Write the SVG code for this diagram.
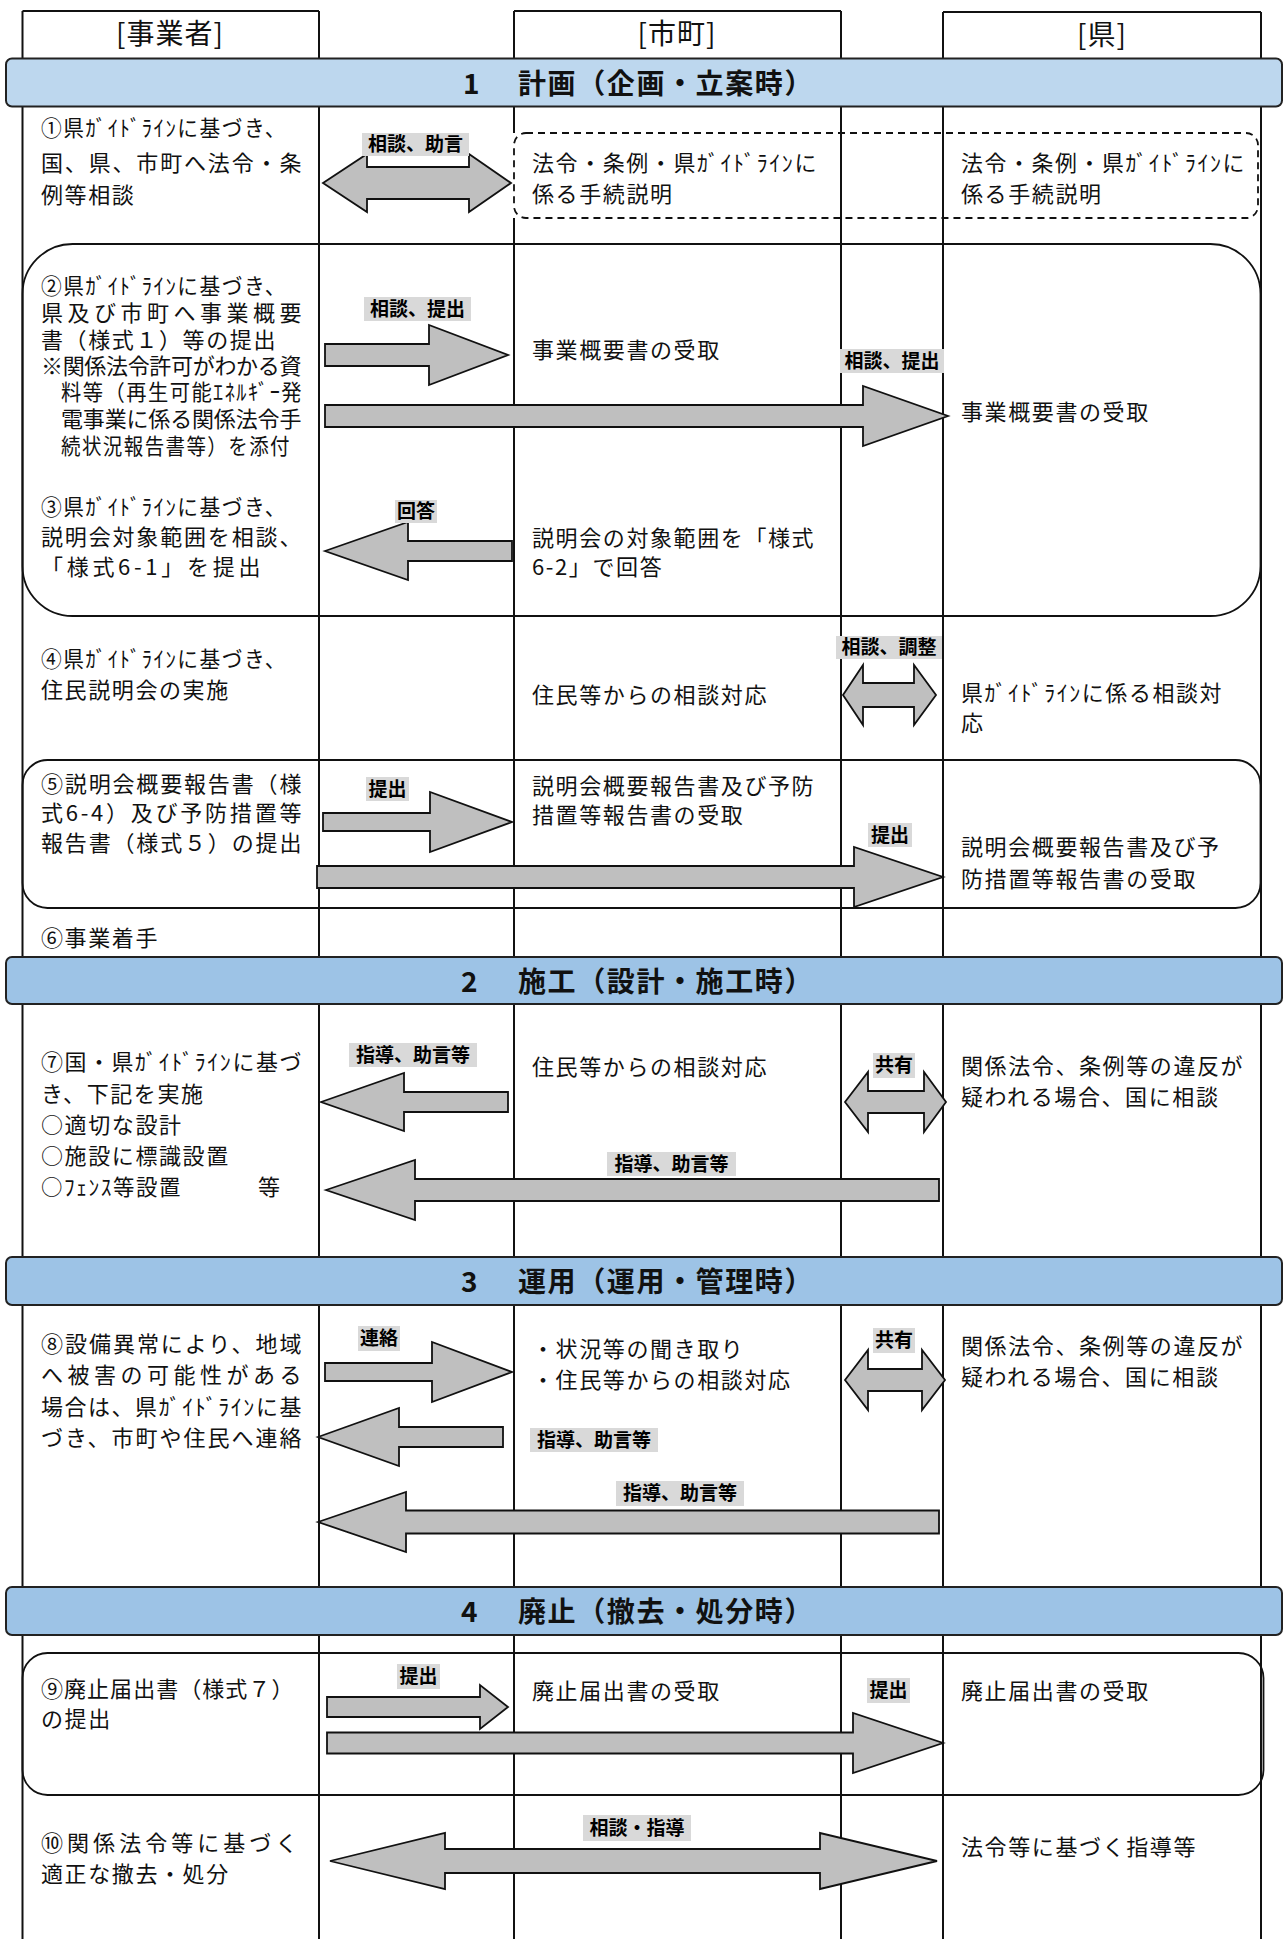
<svg xmlns="http://www.w3.org/2000/svg" width="1284" height="1939" viewBox="0 0 1284 1939">
<style>
text{font-family:"Noto Sans CJK JP","Noto Sans",sans-serif;fill:#111}
.t{font-size:22px;letter-spacing:1.6px}
.h{font-size:28px;text-anchor:middle;letter-spacing:1px}
.bt{font-size:28px;font-weight:bold;letter-spacing:1.6px}
.lb{font-size:19px;font-weight:bold;text-anchor:middle;fill:#000}
.lbg{fill:#d9d9d9}
.ar{fill:#bfbfbf;stroke:#111;stroke-width:1.8;stroke-linejoin:miter}
.ln{stroke:#111;stroke-width:2;fill:none}
.box{fill:none;stroke:#111;stroke-width:1.8}
.dash{fill:none;stroke:#111;stroke-width:1.8;stroke-dasharray:7 5}
.bn1{fill:#bdd7ee;stroke:#222;stroke-width:2}
.bn{fill:#9dc3e6;stroke:#222;stroke-width:2}
</style>
<rect width="1284" height="1939" fill="#fff"/>
<g id="grid">
<path class="ln" d="M22.5,11V1939M319,11V1939M514,11V133M514,218V1939M841,11V1939M943,12V1939M1261,12V1939M22.5,11H319M514,11H841M943,12H1261"/>
</g>
<g id="headers">
<text class="h" x="170" y="44">[事業者]</text>
<text class="h" x="677" y="44">[市町]</text>
<text class="h" x="1102" y="45">[県]</text>
</g>
<g id="boxes">
<rect class="dash" x="514" y="133" width="744" height="85" rx="12"/>
<rect class="box" x="22.5" y="244" width="1238" height="372" rx="50"/>
<rect class="box" x="22.5" y="760" width="1238" height="148" rx="25"/>
<rect class="box" x="22.5" y="1653" width="1241" height="142" rx="25"/>
</g>
<g id="banner1"><rect class="bn1" x="6" y="58.5" width="1276" height="48" rx="6"/><text class="bt" x="463" y="94">1</text><text class="bt" x="518" y="94">計画（企画・立案時）</text></g>
<g id="banner2"><rect class="bn" x="6" y="957" width="1276" height="47" rx="6"/><text class="bt" x="461" y="992">2</text><text class="bt" x="518" y="992">施工（設計・施工時）</text></g>
<g id="banner3"><rect class="bn" x="6" y="1257" width="1276" height="48" rx="6"/><text class="bt" x="461" y="1292">3</text><text class="bt" x="518" y="1292">運用（運用・管理時）</text></g>
<g id="banner4"><rect class="bn" x="6" y="1587" width="1276" height="48" rx="6"/><text class="bt" x="461" y="1622">4</text><text class="bt" x="518" y="1622">廃止（撤去・処分時）</text></g>

<g id="step1">
<text class="t" x="41" y="136" textLength="246" lengthAdjust="spacingAndGlyphs">①県ｶﾞｲﾄﾞﾗｲﾝに基づき、</text>
<text class="t" x="41" y="171" textLength="262">国、県、市町へ法令・条</text>
<text class="t" x="41" y="203">例等相談</text>
</g>
<g id="city1">
<text class="t" x="532" y="171" textLength="286" lengthAdjust="spacingAndGlyphs">法令・条例・県ｶﾞｲﾄﾞﾗｲﾝに</text>
<text class="t" x="532" y="202">係る手続説明</text>
</g>
<g id="pref1">
<text class="t" x="961" y="171" textLength="285" lengthAdjust="spacingAndGlyphs">法令・条例・県ｶﾞｲﾄﾞﾗｲﾝに</text>
<text class="t" x="961" y="202">係る手続説明</text>
</g>

<g id="step2">
<text class="t" x="41" y="294" textLength="246" lengthAdjust="spacingAndGlyphs">②県ｶﾞｲﾄﾞﾗｲﾝに基づき、</text>
<text class="t" x="41" y="321" textLength="262">県及び市町へ事業概要</text>
<text class="t" x="41" y="348">書（様式１）等の提出</text>
<text class="t" x="41" y="374" textLength="262">※関係法令許可がわかる資</text>
<text class="t" x="61" y="400" textLength="242" lengthAdjust="spacingAndGlyphs">料等（再生可能ｴﾈﾙｷﾞｰ発</text>
<text class="t" x="61" y="427" textLength="242">電事業に係る関係法令手</text>
<text class="t" x="61" y="454" textLength="230" lengthAdjust="spacingAndGlyphs">続状況報告書等）を添付</text>
</g>
<g id="city2"><text class="t" x="532" y="358">事業概要書の受取</text></g>
<g id="pref2"><text class="t" x="961" y="420">事業概要書の受取</text></g>

<g id="step3">
<text class="t" x="41" y="515" textLength="246" lengthAdjust="spacingAndGlyphs">③県ｶﾞｲﾄﾞﾗｲﾝに基づき、</text>
<text class="t" x="41" y="545" textLength="262">説明会対象範囲を相談、</text>
<text class="t" x="41" y="575" textLength="221">「様式6-1」を提出</text>
</g>
<g id="city3">
<text class="t" x="532" y="546">説明会の対象範囲を「様式</text>
<text class="t" x="532" y="575">6-2」で回答</text>
</g>

<g id="step4">
<text class="t" x="41" y="667" textLength="246" lengthAdjust="spacingAndGlyphs">④県ｶﾞｲﾄﾞﾗｲﾝに基づき、</text>
<text class="t" x="41" y="698">住民説明会の実施</text>
</g>
<g id="city4"><text class="t" x="532" y="703">住民等からの相談対応</text></g>
<g id="pref4">
<text class="t" x="961" y="701" textLength="262" lengthAdjust="spacingAndGlyphs">県ｶﾞｲﾄﾞﾗｲﾝに係る相談対</text>
<text class="t" x="961" y="731">応</text>
</g>

<g id="step5">
<text class="t" x="41" y="792" textLength="262">⑤説明会概要報告書（様</text>
<text class="t" x="41" y="821" textLength="262">式6-4）及び予防措置等</text>
<text class="t" x="41" y="851" textLength="262">報告書（様式５）の提出</text>
</g>
<g id="city5">
<text class="t" x="532" y="794">説明会概要報告書及び予防</text>
<text class="t" x="532" y="823">措置等報告書の受取</text>
</g>
<g id="pref5">
<text class="t" x="961" y="855">説明会概要報告書及び予</text>
<text class="t" x="961" y="887">防措置等報告書の受取</text>
</g>
<g id="step6"><text class="t" x="41" y="946">⑥事業着手</text></g>

<g id="step7">
<text class="t" x="41" y="1070" textLength="262" lengthAdjust="spacingAndGlyphs">⑦国・県ｶﾞｲﾄﾞﾗｲﾝに基づ</text>
<text class="t" x="41" y="1102">き、下記を実施</text>
<text class="t" x="41" y="1133">○適切な設計</text>
<text class="t" x="41" y="1164">○施設に標識設置</text>
<text class="t" x="41" y="1195" textLength="141" lengthAdjust="spacingAndGlyphs">○ﾌｪﾝｽ等設置</text>
<text class="t" x="258" y="1195">等</text>
</g>
<g id="city7"><text class="t" x="532" y="1075">住民等からの相談対応</text></g>
<g id="pref7">
<text class="t" x="961" y="1074">関係法令、条例等の違反が</text>
<text class="t" x="961" y="1105">疑われる場合、国に相談</text>
</g>

<g id="step8">
<text class="t" x="41" y="1352" textLength="262">⑧設備異常により、地域</text>
<text class="t" x="41" y="1383" textLength="262">へ被害の可能性がある</text>
<text class="t" x="41" y="1415" textLength="262" lengthAdjust="spacingAndGlyphs">場合は、県ｶﾞｲﾄﾞﾗｲﾝに基</text>
<text class="t" x="41" y="1446" textLength="262">づき、市町や住民へ連絡</text>
</g>
<g id="city8">
<text class="t" x="532" y="1357">・状況等の聞き取り</text>
<text class="t" x="532" y="1388">・住民等からの相談対応</text>
</g>
<g id="pref8">
<text class="t" x="961" y="1354">関係法令、条例等の違反が</text>
<text class="t" x="961" y="1385">疑われる場合、国に相談</text>
</g>

<g id="step9">
<text class="t" x="41" y="1697" textLength="254">⑨廃止届出書（様式７）</text>
<text class="t" x="41" y="1727">の提出</text>
</g>
<g id="city9"><text class="t" x="532" y="1699">廃止届出書の受取</text></g>
<g id="pref9"><text class="t" x="961" y="1699">廃止届出書の受取</text></g>

<g id="step10">
<text class="t" x="41" y="1851" textLength="258">⑩関係法令等に基づく</text>
<text class="t" x="41" y="1882">適正な撤去・処分</text>
</g>
<g id="pref10"><text class="t" x="961" y="1855">法令等に基づく指導等</text></g>

<g id="connectors">
<polygon class="ar" points="323,183 367,154 367,167 469,167 469,154 511,183 469,212 469,199 367,199 367,212"/>
<polygon class="ar" points="325,344 429,344 429,325 508,355 429,385 429,366 325,366"/>
<polygon class="ar" points="325,405 863,405 863,386 948,416 863,446 863,427 325,427"/>
<polygon class="ar" points="325,551 408,522 408,541 512,541 512,561 408,561 408,580"/>
<polygon class="ar" points="843,695 863,665 863,683 914,683 914,665 936,695 914,725 914,707 863,707 863,725"/>
<polygon class="ar" points="323,813 430,813 430,792 512,822 430,852 430,831 323,831"/>
<polygon class="ar" points="317,866 854,866 854,847 943,877 854,907 854,888 317,888"/>
<polygon class="ar" points="321,1102 404,1073 404,1092 508,1092 508,1112 404,1112 404,1131"/>
<polygon class="ar" points="326,1190 415,1160 415,1179 939,1179 939,1201 415,1201 415,1220"/>
<polygon class="ar" points="845,1102 868,1072 868,1091 924,1091 924,1072 946,1102 924,1132 924,1113 868,1113 868,1132"/>
<polygon class="ar" points="325,1363 432,1363 432,1342 512,1372 432,1402 432,1381 325,1381"/>
<polygon class="ar" points="318,1437 399,1408 399,1427 503,1427 503,1447 399,1447 399,1466"/>
<polygon class="ar" points="318,1522 406,1492 406,1510.5 939,1510.5 939,1533.5 406,1533.5 406,1552"/>
<polygon class="ar" points="845,1380 868,1350 868,1369 922,1369 922,1350 945,1380 922,1410 922,1391 868,1391 868,1410"/>
<polygon class="ar" points="327,1697 480,1697 480,1685 508,1707 480,1729 480,1717 327,1717"/>
<polygon class="ar" points="327,1732.5 853,1732.5 853,1713 943,1743 853,1773 853,1753.5 327,1753.5"/>
<polygon class="ar" points="330,1861 445,1833 445,1849 820,1849 820,1833 937,1861 820,1889 820,1873 445,1873 445,1889"/>
</g>
<g id="labels">
<rect class="lbg" x="362" y="133" width="107" height="23"/><text class="lb" x="415.5" y="151">相談、助言</text>
<rect class="lbg" x="364" y="297" width="107" height="24"/><text class="lb" x="417.5" y="316">相談、提出</text>
<rect class="lbg" x="840" y="349" width="104" height="24"/><text class="lb" x="892" y="368">相談、提出</text>
<rect class="lbg" x="395" y="500" width="42" height="23"/><text class="lb" x="416" y="518">回答</text>
<rect class="lbg" x="836" y="636" width="106" height="23"/><text class="lb" x="889" y="654">相談、調整</text>
<rect class="lbg" x="366" y="777" width="43" height="24"/><text class="lb" x="387.5" y="796">提出</text>
<rect class="lbg" x="868" y="823" width="44" height="24"/><text class="lb" x="890" y="842">提出</text>
<rect class="lbg" x="349" y="1043" width="128" height="24"/><text class="lb" x="413" y="1062">指導、助言等</text>
<rect class="lbg" x="607" y="1152" width="129" height="24"/><text class="lb" x="671.5" y="1171">指導、助言等</text>
<rect class="lbg" x="873" y="1053" width="42" height="25"/><text class="lb" x="894" y="1072">共有</text>
<rect class="lbg" x="358" y="1326" width="42" height="25"/><text class="lb" x="379" y="1345">連絡</text>
<rect class="lbg" x="530" y="1428" width="128" height="24"/><text class="lb" x="594" y="1447">指導、助言等</text>
<rect class="lbg" x="616" y="1481" width="128" height="25"/><text class="lb" x="680" y="1500">指導、助言等</text>
<rect class="lbg" x="873" y="1328" width="42" height="25"/><text class="lb" x="894" y="1347">共有</text>
<rect class="lbg" x="397" y="1664" width="43" height="25"/><text class="lb" x="418.5" y="1683">提出</text>
<rect class="lbg" x="867" y="1678" width="43" height="25"/><text class="lb" x="888.5" y="1697">提出</text>
<rect class="lbg" x="583" y="1815" width="108" height="26"/><text class="lb" x="637" y="1835">相談・指導</text>
</g>
</svg>
